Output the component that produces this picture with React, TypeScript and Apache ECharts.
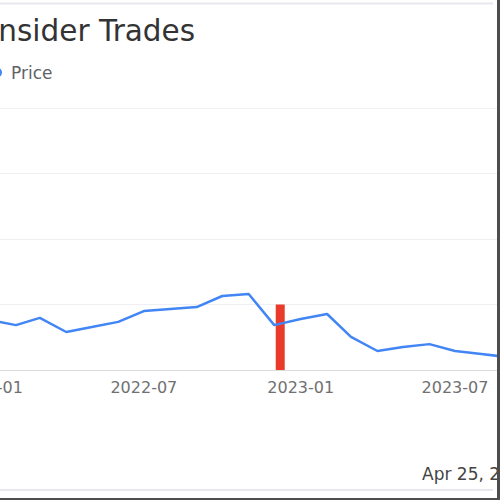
import React, { useEffect, useRef } from 'react'
import * as echarts from 'echarts'

// monthly closing prices
const priceDates = [
  '2022-01-01', '2022-02-01', '2022-03-01', '2022-04-01', '2022-05-01', '2022-06-01',
  '2022-07-01', '2022-08-01', '2022-09-01', '2022-10-01', '2022-11-01', '2022-12-01',
  '2023-01-01', '2023-02-01', '2023-03-01', '2023-04-01', '2023-05-01', '2023-06-01',
  '2023-07-01', '2023-08-01', '2023-09-01',
]
const priceValues = [
  15.3, 13.7, 15.9, 11.6, 13.1, 14.7,
  18.0, 18.6, 19.2, 22.6, 23.2, 13.7,
  15.6, 17.1, 10.1, 5.8, 7.0, 7.9,
  5.8, 4.9, 3.9,
]

// insider trade marker
const tradeDates = ['2022-12-08']
const tradeValues = [20]

// x labels only every half year (Jan / Jul)
const labelMonths = [0, 6]

const DAY = 24 * 3600 * 1000
const FONT = 'DejaVu Sans, Verdana, sans-serif'

const App: React.FC = () => {
  const chartRef = useRef<HTMLDivElement>(null)

  useEffect(() => {
    if (!chartRef.current) return
    const chart = echarts.init(chartRef.current, null, { renderer: 'svg' })

    const options = {
      animation: false,
      textStyle: { fontFamily: FONT },
      title: {
        text: 'Insider Trades',
        left: 49.6,
        top: 16,
        padding: 0,
        textStyle: { fontSize: 29.5, fontWeight: 'normal', color: '#333', fontFamily: FONT },
      },
      legend: {
        data: ['Price'],
        left: 52,
        top: 64,
        padding: 0,
        icon: 'circle',
        itemWidth: 18,
        itemHeight: 10,
        selectedMode: false,
        textStyle: { fontSize: 17, color: '#5f6368', fontFamily: FONT },
      },
      grid: { left: 18.6, right: 0, top: 108, bottom: 128 },
      xAxis: {
        type: 'time',
        min: '2021-12-01',
        max: '2023-08-14',
        minInterval: 80 * DAY,
        axisLine: { lineStyle: { color: '#dcdcdc' } },
        axisTick: { show: false },
        splitLine: { show: false },
        axisLabel: {
          formatter: (v: number) =>
            labelMonths.includes(new Date(v).getMonth())
              ? echarts.time.format(v, '{yyyy}-{MM}', false)
              : '',
          fontSize: 16,
          color: '#707070',
          margin: 9,
          hideOverlap: false,
        },
      },
      yAxis: {
        type: 'value',
        min: 0,
        max: 80,
        interval: 20,
        axisLabel: { show: false },
        axisLine: { show: false },
        axisTick: { show: false },
        splitLine: { lineStyle: { color: '#f0f0f2' } },
      },
      series: [
        {
          name: 'Trades',
          type: 'bar',
          barWidth: 9,
          itemStyle: { color: '#ea3a2c' },
          data: tradeDates.map((d, i) => [d, tradeValues[i]]),
        },
        {
          name: 'Price',
          type: 'line',
          showSymbol: false,
          symbol: 'circle',
          itemStyle: { color: '#4285f4' },
          lineStyle: { color: '#4285f4', width: 2.5 },
          data: priceDates.map((d, i) => [d, priceValues[i]]),
        },
      ],
      graphic: [
        {
          type: 'line',
          shape: { x1: 60, y1: 3.5, x2: 553, y2: 3.5 },
          style: { stroke: '#e8e8ee', lineWidth: 2 },
        },
        {
          type: 'line',
          shape: { x1: 60, y1: 490, x2: 553, y2: 490 },
          style: { stroke: '#e8e8ee', lineWidth: 2 },
        },
        {
          type: 'text',
          x: 482,
          y: 474,
          style: {
            text: 'Apr 25, 2024',
            fontSize: 17,
            fill: '#444',
            textVerticalAlign: 'middle',
            fontFamily: FONT,
          },
        },
      ],
    }

    chart.setOption(options)
    return () => {
      chart.dispose()
    }
  }, [])

  return (
    <div
      style={{
        position: 'fixed',
        left: 0,
        top: 0,
        width: 497,
        height: 498,
        overflow: 'hidden',
        background: '#fff',
        borderRight: '3px solid #4d4d4d',
        borderBottom: '2px solid #4d4d4d',
      }}
    >
      <div
        ref={chartRef}
        style={{ position: 'absolute', left: -60, top: 0, width: 557, height: 498 }}
      />
    </div>
  )
}

export default App
